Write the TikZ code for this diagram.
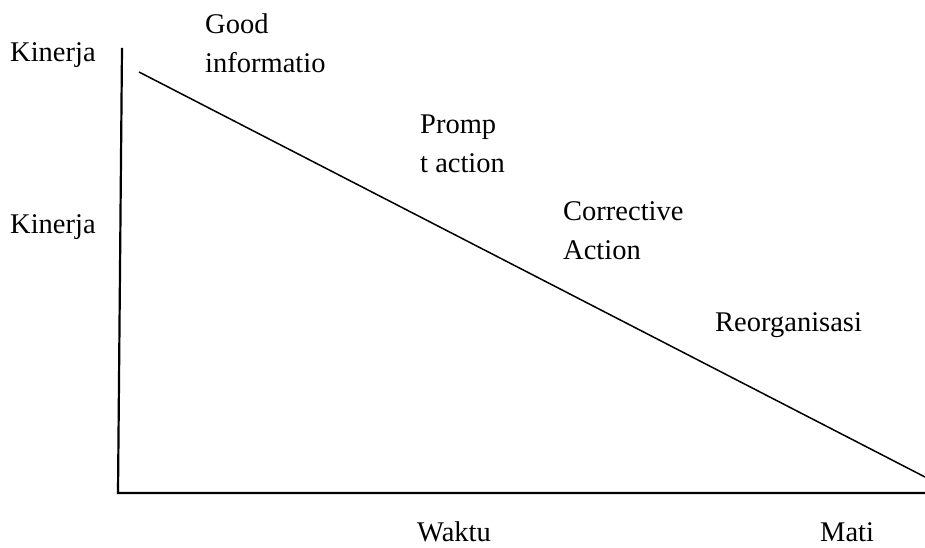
\documentclass[tikz,border=0pt]{standalone}
\usepackage{fontspec}
\setmainfont{Liberation Serif}
\begin{document}
\begin{tikzpicture}[x=1pt,y=1pt,
  lbl/.style={anchor=base west,inner sep=0pt,align=left,font=\fontsize{28.5}{39.5}\selectfont},
  axis/.style={line width=2.2pt},
  curve/.style={line width=1.5pt}]
\useasboundingbox[fill=white] (0,0) rectangle (925,548);
% axes
\coordinate (ytop) at (122,500);
\coordinate (orig) at (118,55);
\coordinate (xend) at (925,55);
\coordinate (dstart) at (139,476);
\coordinate (dend) at (925,71);
\draw[axis] (ytop) -- (orig) -- (xend);
\draw[curve] (dstart) -- (dend);
% labels (base anchor = baseline of the last line)
\node[lbl] (k1) at (10,486) {Kinerja};
\node[lbl] (k2) at (10,314) {Kinerja};
\node[lbl] (good) at (205,475) {Good\\informatio};
\node[lbl] (prompt) at (420,375) {Promp\\t action};
\node[lbl] (corr) at (563,288) {Corrective\\Action};
\node[lbl] (reorg) at (715,216) {Reorganisasi};
\node[lbl] (waktu) at (417,6) {Waktu};
\node[lbl] (mati) at (820,6) {Mati};
\end{tikzpicture}
\end{document}
